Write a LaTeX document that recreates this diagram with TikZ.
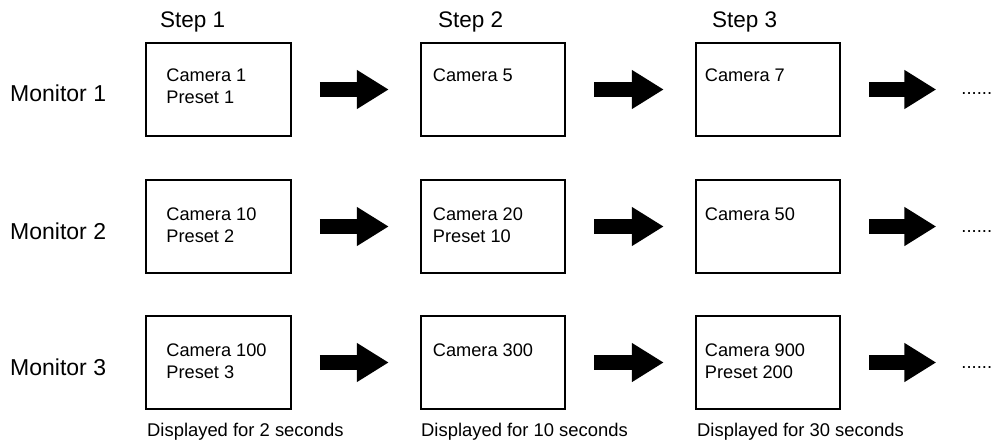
\documentclass[tikz,border=0pt]{standalone}
\usepackage{fontspec}
\setmainfont{Liberation Sans}
\usepackage{tikz}
\usetikzlibrary{arrows.meta, calc, positioning}

\begin{document}
\begin{tikzpicture}[
  x=1pt, y=-1pt,
  scr/.style={draw, line width=2pt, minimum width=144.5pt, minimum height=93.5pt,
              inner sep=0pt},
  cam/.style={font=\fontsize{18.2}{22}\selectfont, align=left,
              anchor=north west, inner sep=0pt},
  monlbl/.style={font=\fontsize{23}{28}\selectfont, anchor=base west, inner sep=0pt},
  steplbl/.style={font=\fontsize{22.5}{27}\selectfont, anchor=base west, inner sep=0pt},
  caplbl/.style={font=\fontsize{18.4}{22}\selectfont, anchor=base west, inner sep=0pt},
  blk/.style={line width=15pt, -{Triangle[length=32pt, width=37pt]},
              shorten <=28pt, shorten >=31pt},
]
\useasboundingbox (0,0) rectangle (992,441);

% steps
\node[steplbl] (s1) at (160,28) {Step 1};
\node[steplbl] (s2) at (438,28) {Step 2};
\node[steplbl] (s3) at (712,28) {Step 3};

% monitors
\node[monlbl] (m1) at (10,102) {Monitor 1};
\node[monlbl] (m2) at (10,239) {Monitor 2};
\node[monlbl] (m3) at (10,375) {Monitor 3};

% screens
\node[scr] (b11) at (218.5,89.5) {};
\node[scr] (b12) at (493,89.5) {};
\node[scr] (b13) at (768,89.5) {};
\node[scr] (b21) at (218.5,226.5) {};
\node[scr] (b22) at (493,226.5) {};
\node[scr] (b23) at (768,226.5) {};
\node[scr] (b31) at (218.5,362.5) {};
\node[scr] (b32) at (493,362.5) {};
\node[scr] (b33) at (768,362.5) {};

\node[cam] (t11) at ([shift={(21,27)}]b11.north west) {Camera 1\\Preset 1};
\node[cam] (t12) at ([shift={(13,27)}]b12.north west) {Camera 5};
\node[cam] (t13) at ([shift={(10,27)}]b13.north west) {Camera 7};
\node[cam] (t21) at ([shift={(21,29)}]b21.north west) {Camera 10\\Preset 2};
\node[cam] (t22) at ([shift={(13,29)}]b22.north west) {Camera 20\\Preset 10};
\node[cam] (t23) at ([shift={(10,29)}]b23.north west) {Camera 50};
\node[cam] (t31) at ([shift={(21,29)}]b31.north west) {Camera 100\\Preset 3};
\node[cam] (t32) at ([shift={(13,29)}]b32.north west) {Camera 300};
\node[cam] (t33) at ([shift={(10,29)}]b33.north west) {Camera 900\\Preset 200};

% more steps
\node[caplbl] (d1) at ([shift={(120,5.5)}]b13.east) {......};
\node[caplbl] (d2) at ([shift={(120,5.5)}]b23.east) {......};
\node[caplbl] (d3) at ([shift={(120,5.5)}]b33.east) {......};

% durations
\node[caplbl] (c1) at (147,436) {Displayed for 2 seconds};
\node[caplbl] (c2) at (421,436) {Displayed for 10 seconds};
\node[caplbl] (c3) at (697,436) {Displayed for 30 seconds};

\draw[blk] (b11) -- (b12);
\draw[blk] (b12) -- (b13);
\draw[blk, shorten >=25pt] (b13.east) -- (b13.east -| d1.west);
\draw[blk] (b21) -- (b22);
\draw[blk] (b22) -- (b23);
\draw[blk, shorten >=25pt] (b23.east) -- (b23.east -| d2.west);
\draw[blk] (b31) -- (b32);
\draw[blk] (b32) -- (b33);
\draw[blk, shorten >=25pt] (b33.east) -- (b33.east -| d3.west);
\end{tikzpicture}
\end{document}
